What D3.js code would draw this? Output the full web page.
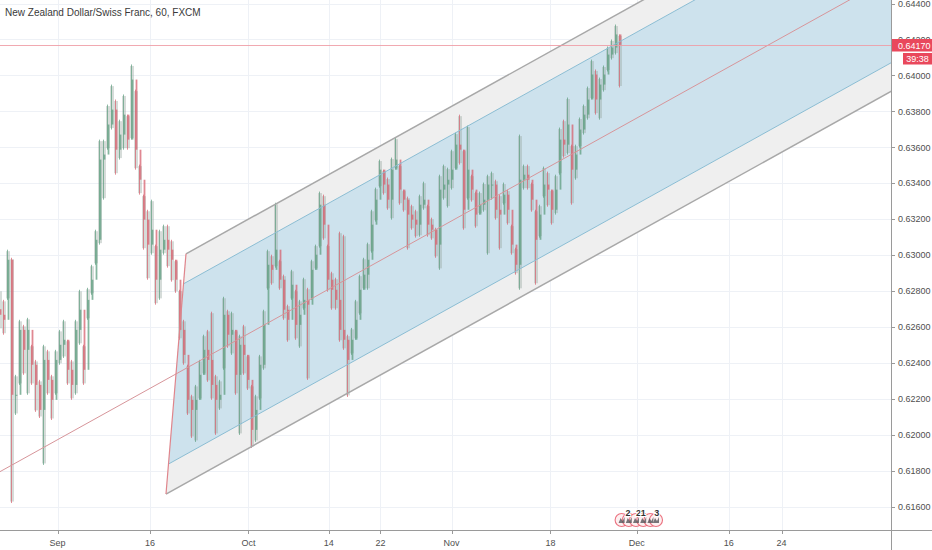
<!DOCTYPE html>
<html><head><meta charset="utf-8">
<script src="https://cdn.jsdelivr.net/npm/d3@7"></script>
<style>html,body{margin:0;padding:0;background:#fff;}svg{display:block;}</style>
</head><body>
<script>
// ---------- DATA ----------
const title = "New Zealand Dollar/Swiss Franc, 60, FXCM";
const firstOpen = 0.62700;
const highs = [0.62808,0.62752,0.63031,0.62986,0.62335,0.62641,0.62613,0.62652,0.62502,0.62418,
0.62307,0.62502,0.62474,0.62335,0.62474,0.62585,0.62641,0.62530,0.62418,0.62641,
0.62808,0.62502,0.62819,0.62947,0.63142,0.63643,0.63643,0.63838,0.63949,0.63866,
0.63754,0.63894,0.63782,0.64061,0.63921,0.63504,0.63337,0.63253,0.63309,0.63059,
0.63142,0.63170,0.63170,0.63086,0.62975,0.62808,0.62641,0.62391,0.62224,0.62279,
0.62418,0.62558,0.62585,0.62686,0.62335,0.62307,0.62769,0.62697,0.62686,0.62585,
0.62558,0.62613,0.62446,0.62279,0.62224,0.62446,0.62697,0.63031,0.63003,0.63292,
0.62975,0.62892,0.62725,0.62919,0.62808,0.62752,0.62875,0.62819,0.62975,0.63059,
0.63354,0.63337,0.63059,0.62908,0.62875,0.63131,0.63114,0.62558,0.62596,0.62752,
0.62892,0.62986,0.63070,0.63253,0.63376,0.63532,0.63476,0.63432,0.63543,0.63654,
0.63504,0.63365,0.63326,0.63281,0.63253,0.63337,0.63409,0.63281,0.63209,0.63153,
0.63448,0.63504,0.63487,0.63587,0.63682,0.63782,0.63587,0.63721,0.63448,0.63354,
0.63354,0.63404,0.63448,0.63465,0.63420,0.63337,0.63404,0.63365,0.63170,0.63042,
0.63671,0.63504,0.63504,0.63404,0.63253,0.63281,0.63493,0.63465,0.63365,0.63448,
0.63710,0.63754,0.63877,0.63615,0.63615,0.63766,0.63838,0.63938,0.64088,0.64033,
0.63988,0.64055,0.64161,0.64200,0.64283,0.64228];
const lows = [0.62585,0.62558,0.62752,0.61622,0.62112,0.62279,0.62335,0.62224,0.62279,0.62129,
0.62095,0.61834,0.62224,0.62084,0.62224,0.62391,0.62429,0.62279,0.62196,0.62224,
0.62502,0.62279,0.62641,0.62780,0.62947,0.63059,0.63309,0.63587,0.63699,0.63448,
0.63532,0.63587,0.63587,0.63643,0.63476,0.63337,0.63031,0.62864,0.63003,0.62725,
0.62752,0.63003,0.62931,0.62853,0.62791,0.62530,0.62391,0.62112,0.61984,0.61962,
0.62196,0.62335,0.62296,0.62196,0.62001,0.62140,0.62363,0.62485,0.62446,0.62224,
0.62001,0.62335,0.62251,0.61928,0.61962,0.62196,0.62363,0.62808,0.62836,0.62931,
0.62808,0.62641,0.62519,0.62752,0.62530,0.62485,0.62697,0.62307,0.62752,0.62919,
0.63042,0.63086,0.62797,0.62697,0.62697,0.62519,0.62474,0.62212,0.62446,0.62530,
0.62669,0.62808,0.62808,0.63014,0.63187,0.63376,0.63337,0.63253,0.63198,0.63476,
0.63281,0.63242,0.63031,0.63142,0.63098,0.63103,0.63253,0.63103,0.63086,0.62986,
0.62919,0.63309,0.63265,0.63365,0.63476,0.63504,0.63142,0.63309,0.63298,0.63153,
0.63226,0.63242,0.63003,0.63309,0.63198,0.63031,0.63281,0.63170,0.63003,0.62892,
0.62808,0.63365,0.63365,0.63242,0.62836,0.63098,0.63320,0.63270,0.63170,0.63226,
0.63448,0.63543,0.63560,0.63281,0.63420,0.63599,0.63671,0.63754,0.63866,0.63782,
0.63754,0.63910,0.64022,0.64088,0.64116,0.63933];
const closes = [0.62669,0.62641,0.62975,0.62224,0.62224,0.62585,0.62474,0.62585,0.62391,0.62279,
0.62140,0.62418,0.62307,0.62196,0.62418,0.62502,0.62530,0.62363,0.62279,0.62585,
0.62697,0.62363,0.62752,0.62864,0.63086,0.63532,0.63560,0.63727,0.63810,0.63587,
0.63671,0.63782,0.63643,0.63977,0.63587,0.63420,0.63198,0.63059,0.63142,0.62864,
0.63031,0.63086,0.63031,0.62975,0.62864,0.62585,0.62446,0.62196,0.62140,0.62196,
0.62335,0.62474,0.62418,0.62279,0.62196,0.62224,0.62669,0.62558,0.62585,0.62335,
0.62502,0.62446,0.62307,0.62029,0.62140,0.62391,0.62613,0.62947,0.62919,0.63031,
0.62864,0.62697,0.62641,0.62836,0.62613,0.62669,0.62752,0.62725,0.62919,0.63003,
0.63281,0.63170,0.62864,0.62808,0.62752,0.62585,0.62530,0.62418,0.62530,0.62641,
0.62808,0.62892,0.62975,0.63170,0.63309,0.63476,0.63393,0.63309,0.63476,0.63532,
0.63365,0.63309,0.63226,0.63198,0.63170,0.63281,0.63309,0.63170,0.63142,0.63059,
0.63365,0.63393,0.63420,0.63476,0.63615,0.63587,0.63253,0.63476,0.63365,0.63226,
0.63281,0.63309,0.63393,0.63393,0.63253,0.63226,0.63337,0.63253,0.63059,0.62947,
0.63420,0.63448,0.63420,0.63309,0.63086,0.63226,0.63393,0.63365,0.63253,0.63365,
0.63643,0.63615,0.63727,0.63476,0.63560,0.63699,0.63782,0.63866,0.64005,0.63866,
0.63949,0.64005,0.64116,0.64155,0.64228,0.64170];

const yTickValues = [0.616,0.618,0.620,0.622,0.624,0.626,0.628,0.630,0.632,0.634,0.636,0.638,0.640,0.642,0.644];
const xTickLabels = ["Sep","16","Oct","14","22","Nov","18","Dec","16","24"];
const xTickBars   = [14.4, 37.5, 62.1, 82.2, 95.1, 112.9, 137.6, 159.2, 182.2, 195.4];

// pitchfork anchor points [bar, price]
const pitchP1 = [-10, 0.61673];
const pitchP2 = [46.5, 0.63008];
const pitchP3 = [41.5, 0.61672];
const innerLevel = 0.75, outerLevel = 1.0;

const countdown = "39:38";
const eventBars   = [155.4, 157.2, 159.0, 160.8, 162.6, 164.0];
const eventLabels = [{bar:157.0,t:"2"},{bar:159.6,t:"2"},{bar:160.8,t:"1"},{bar:164.2,t:"3"}];

// ---------- LAYOUT ----------
const W = 932, H = 550, plotR = 891, plotB = 530;
const font = "'Liberation Sans', Arial, sans-serif";
const x = d3.scaleLinear().domain([0, 222.75]).range([0, plotR]);
const y = d3.scaleLinear().domain([0.616, 0.644]).range([507, 3.5]);

const svg = d3.select("body").append("svg").attr("width", W).attr("height", H);
svg.append("rect").attr("width", W).attr("height", H).attr("fill", "#fff");
svg.append("defs").append("clipPath").attr("id","plot")
  .append("rect").attr("x",0).attr("y",0).attr("width",plotR).attr("height",plotB);

// grid
const grid = svg.append("g").attr("clip-path","url(#plot)");
grid.selectAll(".hg").data(yTickValues).join("line")
  .attr("x1",0).attr("x2",plotR).attr("y1",d=>Math.round(y(d))+0.5).attr("y2",d=>Math.round(y(d))+0.5)
  .attr("stroke","#eef1f6").attr("stroke-width",1);
grid.selectAll(".vg").data(xTickBars).join("line")
  .attr("x1",d=>Math.round(x(d))+0.5).attr("x2",d=>Math.round(x(d))+0.5).attr("y1",0).attr("y2",plotB)
  .attr("stroke","#eef1f6").attr("stroke-width",1);

// pitchfork geometry (data space)
const M = [(pitchP2[0]+pitchP3[0])/2, (pitchP2[1]+pitchP3[1])/2];
const slope = (M[1]-pitchP1[1])/(M[0]-pitchP1[0]);
const endBar = 240;
function levelStart(L, P){ return [M[0]+L*(P[0]-M[0]), M[1]+L*(P[1]-M[1])]; }
function levelEnd(s){ return [endBar, s[1]+(endBar-s[0])*slope]; }
const U75 = levelStart(innerLevel,pitchP2), U100 = levelStart(outerLevel,pitchP2);
const L75 = levelStart(innerLevel,pitchP3), L100 = levelStart(outerLevel,pitchP3);
const pt = p => [x(p[0]), y(p[1])];
const pf = svg.append("g").attr("clip-path","url(#plot)");
const poly = pts => "M" + pts.map(p=>pt(p).join(",")).join("L") + "Z";
pf.append("path").attr("d", poly([U100, levelEnd(U100), levelEnd(U75), U75])).attr("fill","#efefef");
pf.append("path").attr("d", poly([L75, levelEnd(L75), levelEnd(L100), L100])).attr("fill","#efefef");
pf.append("path").attr("d", poly([U75, levelEnd(U75), levelEnd(L75), L75])).attr("fill","#cde2ed");

// candles
const bars = closes.map((c,i)=>({i, o: i===0?firstOpen:closes[i-1], h: highs[i], l: lows[i], c}));
const upCol = "#5e9e7f", dnCol = "#d5606d";
const cg = svg.append("g").attr("clip-path","url(#plot)");
cg.selectAll(".rng").data(bars).join("rect")
  .attr("x",d=>x(d.i)-2).attr("width",4)
  .attr("y",d=>y(d.h)+1.5).attr("height",d=>Math.max(0, y(d.l)-y(d.h)-3))
  .attr("fill","#93a39c").attr("fill-opacity",0.38);
cg.selectAll(".wick").data(bars).join("line")
  .attr("x1",d=>x(d.i)-0.5).attr("x2",d=>x(d.i)-0.5)
  .attr("y1",d=>y(d.h)).attr("y2",d=>y(d.l))
  .attr("stroke",d=>d.c>=d.o?upCol:dnCol).attr("stroke-width",0.9).attr("stroke-opacity",0.8);
cg.selectAll(".body").data(bars).join("rect")
  .attr("x",d=>x(d.i)-0.4).attr("width",1.8)
  .attr("y",d=>y(Math.max(d.o,d.c)))
  .attr("height",d=>Math.max(1, Math.abs(y(d.o)-y(d.c))))
  .attr("fill",d=>d.c>=d.o?upCol:dnCol).attr("fill-opacity",0.75);

// pitchfork lines
const lg = svg.append("g").attr("clip-path","url(#plot)");
function line2(a,b,col,w){ lg.append("line").attr("x1",pt(a)[0]).attr("y1",pt(a)[1]).attr("x2",pt(b)[0]).attr("y2",pt(b)[1]).attr("stroke",col).attr("stroke-width",w); }
line2(U100, levelEnd(U100), "#a8a8a8", 1.5);
line2(L100, levelEnd(L100), "#a8a8a8", 1.5);
line2(U75, levelEnd(U75), "#8bbdd3", 1);
line2(L75, levelEnd(L75), "#8bbdd3", 1);
line2(pitchP1, [endBar, pitchP1[1]+(endBar-pitchP1[0])*slope], "#d7959a", 1);
line2(pitchP2, pitchP3, "#e0848b", 1.2);

// last price line
const last = closes[closes.length-1];
lg.append("line").attr("x1",0).attr("x2",plotR).attr("y1",Math.round(y(last))+0.5).attr("y2",Math.round(y(last))+0.5)
  .attr("stroke","#ee9aa3").attr("stroke-width",1).attr("stroke-opacity",0.85);

// events
const ev = svg.append("g");
ev.selectAll("circle").data(eventBars).join("circle")
  .attr("cx",d=>x(d)).attr("cy",plotB-10).attr("r",6.5)
  .attr("fill","#fdf0f1").attr("stroke","#e8596a").attr("stroke-width",1.1).attr("stroke-opacity",0.85);
ev.selectAll(".mk").data(eventBars).join("path")
  .attr("d",d=>`M${x(d)-3},${plotB-7}L${x(d)-1},${plotB-12}L${x(d)+1},${plotB-9}L${x(d)+3},${plotB-13}L${x(d)+3},${plotB-7}Z`)
  .attr("fill","#55555a").attr("fill-opacity",0.8);
ev.selectAll("text").data(eventLabels).join("text")
  .attr("x",d=>x(d.bar)).attr("y",plotB-14).attr("text-anchor","middle")
  .attr("font-family",font).attr("font-size",9).attr("font-weight","bold").attr("fill","#333")
  .attr("paint-order","stroke").attr("stroke","#fff").attr("stroke-width",2)
  .text(d=>d.t);

// axes
svg.append("line").attr("x1",0).attr("x2",W).attr("y1",plotB+0.5).attr("y2",plotB+0.5).attr("stroke","#9a9a9a");
svg.append("line").attr("x1",plotR+0.5).attr("x2",plotR+0.5).attr("y1",0).attr("y2",H).attr("stroke","#9a9a9a");
const ya = svg.append("g");
ya.selectAll("line").data(yTickValues).join("line")
  .attr("x1",plotR).attr("x2",plotR+4).attr("y1",d=>Math.round(y(d))+0.5).attr("y2",d=>Math.round(y(d))+0.5)
  .attr("stroke","#9a9a9a");
ya.selectAll("text").data(yTickValues).join("text")
  .attr("x",plotR+7).attr("y",d=>y(d)).attr("dy","0.35em")
  .attr("font-family",font).attr("font-size",9).attr("fill","#4f4f4f")
  .text(d=>d3.format(".5f")(d));
const xa = svg.append("g");
xa.selectAll("line").data(xTickBars).join("line")
  .attr("x1",d=>Math.round(x(d))+0.5).attr("x2",d=>Math.round(x(d))+0.5).attr("y1",plotB).attr("y2",plotB+4)
  .attr("stroke","#9a9a9a");
xa.selectAll("text").data(xTickLabels).join("text")
  .attr("x",(d,i)=>x(xTickBars[i])).attr("y",plotB+16).attr("text-anchor","middle")
  .attr("font-family",font).attr("font-size",9).attr("fill","#4f4f4f")
  .text(d=>d);

// price label + countdown (drawn over the 0.64200 tick label, as in the reference)
const ly = Math.round(y(last));
svg.append("rect").attr("x",plotR+1).attr("y",ly-6).attr("width",W-plotR-1).attr("height",12.5).attr("fill","#e9485c");
svg.append("text").attr("x",plotR+7).attr("y",ly+0.5).attr("dy","0.35em")
  .attr("font-family",font).attr("font-size",9).attr("fill","#fff").text(d3.format(".5f")(last));
svg.append("rect").attr("x",903).attr("y",ly+8).attr("width",W-903).attr("height",11.5).attr("fill","#e9485c");
svg.append("text").attr("x",917.5).attr("y",ly+13.8).attr("dy","0.35em").attr("text-anchor","middle")
  .attr("font-family",font).attr("font-size",9).attr("fill","#fff").text(countdown);

// title
svg.append("text").attr("x",5).attr("y",16).attr("font-family",font).attr("font-size",10)
  .attr("fill","#3a3a3a").text(title);
</script>
</body></html>
